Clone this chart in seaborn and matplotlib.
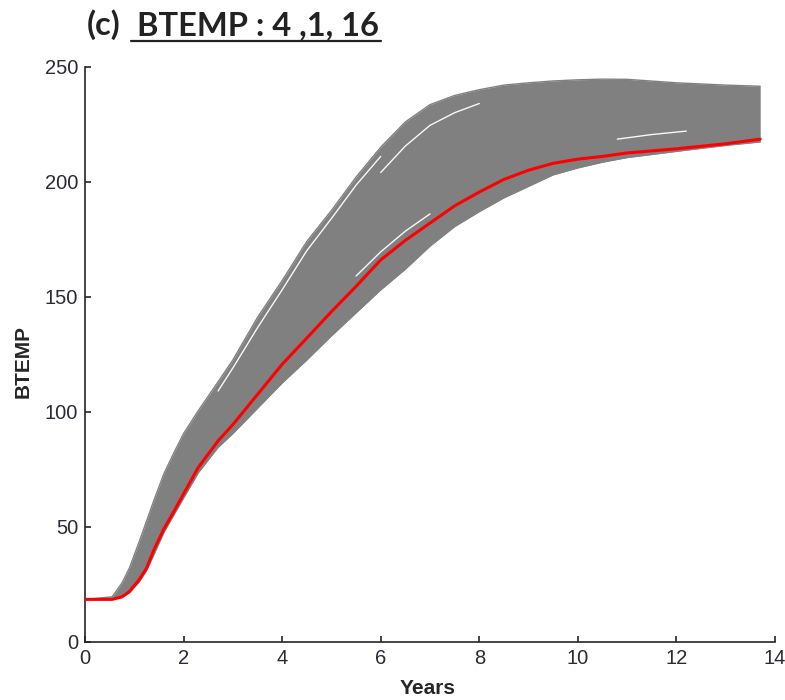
import numpy as np
import pandas as pd
import matplotlib
matplotlib.use("Agg")
import matplotlib.pyplot as plt
import seaborn as sns
from matplotlib.lines import Line2D

# ---------------- data ----------------
years = [0, 0.55, 0.75, 0.9, 1.1, 1.25, 1.4, 1.6, 1.8, 2.0, 2.3, 2.7, 3.0, 3.5,
         4.0, 4.5, 5.0, 5.5, 6.0, 6.5, 7.0, 7.5, 8.0, 8.5, 9.0, 9.5, 10.0, 10.5,
         11.0, 12.0, 13.0, 13.7]
btemp_red = [18.4, 18.4, 19.5, 21.8, 27, 32, 40, 49, 56.5, 64.3, 75.8, 87.3, 94.4,
             107.5, 120.6, 132, 143.5, 154.5, 166, 174.5, 182, 189.5, 195.5, 201,
             205, 208, 209.8, 211, 212.5, 214.3, 216.5, 218.5]
btemp_upper = [18.4, 19.5, 25.5, 32, 43.5, 52.5, 61.6, 73, 82, 90.5, 100.5, 113,
               122.5, 141, 157, 174, 187.5, 202, 215, 226, 233.5, 237.5, 240, 242,
               243, 243.8, 244.3, 244.6, 244.5, 243, 242, 241.5]
btemp_lower = [18.4, 18.4, 19.3, 21.3, 26, 31, 38, 47.5, 55, 62.5, 73.5, 84.5, 90.5,
               101.5, 112.5, 122.5, 133, 143, 153, 162, 172, 180.5, 187, 193, 198,
               203, 206, 208.5, 210.5, 213.2, 215.8, 217.3]

# white gaps between ensemble members visible in the grey band
gap1_years = [2.7, 3.0, 3.5, 4.0, 4.5, 5.0, 5.5, 6.0]
gap1_vals = [109, 119, 136.5, 153, 170, 184, 198.5, 211]
gap2_years = [6.0, 6.5, 7.0, 7.5, 8.0]
gap2_vals = [204, 215.5, 224.5, 230, 234]
gap3_years = [5.5, 6.0, 6.5, 7.0]
gap3_vals = [159, 169.5, 178.5, 186]
gap4_years = [10.8, 11.5, 12.2]
gap4_vals = [218.5, 220.5, 222]

x_ticks = [0, 2, 4, 6, 8, 10, 12, 14]
y_ticks = [0, 50, 100, 150, 200, 250]

title_prefix = "(c)"
title_main = "BTEMP : 4 ,1, 16"
x_label = "Years"
y_label = "BTEMP"

# ---------------- style ----------------
sns.set_style("ticks")
plt.rcParams["font.family"] = ["Liberation Sans", "DejaVu Sans"]

W, H = 785, 700
fig = plt.figure(figsize=(W / 100, H / 100), dpi=100)
ax = fig.add_axes([85 / W, 58.3 / H, 690 / W, 575 / H])

GREY = "#808080"
TXT = "#262626"

env = pd.DataFrame({"Years": years, "upper": btemp_upper,
                    "lower": btemp_lower, "red": btemp_red})

ax.fill_between(env["Years"], env["lower"], env["upper"], color=GREY, lw=0, zorder=1)
long = env.melt(id_vars="Years", value_vars=["upper", "lower"],
                var_name="member", value_name="BTEMP")
sns.lineplot(data=long, x="Years", y="BTEMP", hue="member",
             palette={"upper": GREY, "lower": GREY}, lw=1.0, legend=False,
             estimator=None, sort=False, ax=ax, zorder=2)

for gx, gy in [(gap1_years, gap1_vals), (gap2_years, gap2_vals),
               (gap3_years, gap3_vals), (gap4_years, gap4_vals)]:
    sns.lineplot(x=gx, y=gy, color="white", lw=1.0, alpha=0.95,
                 estimator=None, ax=ax, zorder=3)

sns.lineplot(x=years, y=btemp_red, color="#ff0000", lw=2.2,
             estimator=None, ax=ax, zorder=5)

ax.set_xlim(0, 14)
ax.set_ylim(0, 250)
ax.set_xticks(x_ticks)
ax.set_yticks(y_ticks)
ax.set_xlabel("")
ax.set_ylabel("")
for s in ["top", "right"]:
    ax.spines[s].set_visible(False)
for s in ["left", "bottom"]:
    ax.spines[s].set_color(TXT)
    ax.spines[s].set_linewidth(1.2)
ax.tick_params(direction="in", length=4, width=1.2, color=TXT,
               labelsize=14.5, labelcolor="#2a2a3a", pad=5)

# axis labels
fig.text(23 / W, 1 - 361 / H, y_label, rotation=90, fontsize=15,
         fontweight="bold", color=TXT, ha="center", va="center")
fig.text(428 / W, 6 / H, x_label, fontsize=15, fontweight="bold",
         color=TXT, ha="center", va="baseline")

# title with underlined main part
tfont = ["Lato", "DejaVu Sans"]
fig.text(87 / W, 1 - 35 / H, title_prefix, fontsize=23.5, family=tfont,
         fontweight="bold", color="#222222", ha="left", va="baseline")
t2 = fig.text(137 / W, 1 - 35 / H, title_main, fontsize=23.5, family=tfont,
              fontweight="bold", color="#222222", ha="left", va="baseline")
fig.canvas.draw()
bb = t2.get_window_extent()
uy = 1 - 41 / H
fig.add_artist(Line2D([(bb.x0 - 6) / W, (bb.x1 + 2) / W], [uy, uy],
                      transform=fig.transFigure, color="#222222", lw=1.6))

fig.savefig("out.png", dpi=100)
